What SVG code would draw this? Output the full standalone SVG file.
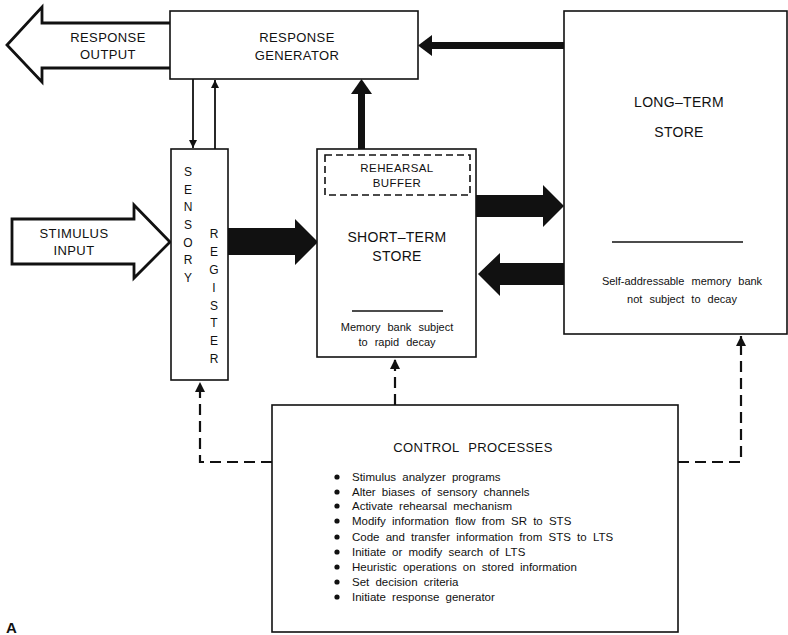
<svg xmlns="http://www.w3.org/2000/svg" width="788" height="635" viewBox="0 0 788 635">
<style>
text{font-family:"Liberation Sans",Arial,sans-serif;fill:#111;}
.box{fill:#fff;stroke:#111;stroke-width:1.6;}
.lbl{font-size:13px;text-anchor:middle;letter-spacing:0.4px;}
.big{font-size:14px;text-anchor:middle;letter-spacing:0.3px;}
.sm{font-size:11px;text-anchor:middle;word-spacing:4px;}
.li{font-size:11.5px;word-spacing:3px;}
.hollow{fill:#fff;stroke:#111;stroke-width:2.8;stroke-linejoin:miter;}
.fat{fill:#111;stroke:none;}
.thin{stroke:#111;stroke-width:1.8;fill:none;}
.dash{stroke:#111;stroke-width:2.2;fill:none;stroke-dasharray:11,6;}
.vl{font-size:12px;text-anchor:middle;}
</style>
<defs>
<marker id="ah" viewBox="0 0 10 10" refX="10" refY="5" markerWidth="8" markerHeight="8" markerUnits="userSpaceOnUse" orient="auto"><path d="M0,0 L10,5 L0,10 z" fill="#111"/></marker>
<marker id="ahd" viewBox="0 0 10 10" refX="10" refY="5" markerWidth="10" markerHeight="10" markerUnits="userSpaceOnUse" orient="auto"><path d="M0,0 L10,5 L0,10 z" fill="#111"/></marker>
</defs>

<g id="connectors">
  <!-- response output hollow arrow -->
  <path class="hollow" d="M171,23 L42,23 L42,7 L7,45 L42,82 L42,68 L171,68"/>
  <!-- stimulus input hollow arrow -->
  <path class="hollow" d="M12,219 L134,219 L134,205 L170,242 L134,278 L134,264 L12,264 Z"/>
  <!-- SR <-> response generator thin arrows -->
  <line class="thin" x1="193" y1="79" x2="193" y2="148" marker-end="url(#ah)"/>
  <line class="thin" x1="215" y1="149" x2="215" y2="80" marker-end="url(#ah)"/>
  <!-- STS -> response generator thick arrow -->
  <rect class="fat" x="358" y="92" width="7" height="57"/>
  <path class="fat" d="M351,94 L361.5,79 L372,94 Z"/>
  <!-- LTS -> response generator thick arrow -->
  <rect class="fat" x="430" y="42" width="134" height="7"/>
  <path class="fat" d="M432,35 L418,45.5 L432,56 Z"/>
  <!-- SR -> STS fat arrow -->
  <path class="fat" d="M228,228 L295,228 L295,219 L318,242 L295,265 L295,255 L228,255 Z"/>
  <!-- STS -> LTS fat arrow -->
  <path class="fat" d="M476,195 L543,195 L543,185 L564,206 L543,227 L543,217 L476,217 Z"/>
  <!-- LTS -> STS fat arrow -->
  <path class="fat" d="M564,263 L500,263 L500,253 L478,274 L500,296 L500,285 L564,285 Z"/>
  <!-- control process dashed connectors -->
  <path class="dash" d="M272,462 L200,462 L200,382" marker-end="url(#ahd)"/>
  <line class="dash" x1="395" y1="405" x2="395" y2="359" marker-end="url(#ahd)"/>
  <path class="dash" d="M678,462 L741,462 L741,336" marker-end="url(#ahd)"/>
</g>

<g id="response-generator">
  <rect class="box" x="170" y="11" width="248" height="68"/>
  <text class="lbl" x="297" y="42">RESPONSE</text>
  <text class="lbl" x="297" y="60">GENERATOR</text>
</g>

<g id="response-output">
  <text class="lbl" x="108" y="42">RESPONSE</text>
  <text class="lbl" x="108" y="59">OUTPUT</text>
</g>

<g id="stimulus-input">
  <text class="lbl" x="74" y="238">STIMULUS</text>
  <text class="lbl" x="74" y="255">INPUT</text>
</g>

<g id="sensory-register">
  <rect class="box" x="171" y="149" width="57" height="231"/>
  <text class="vl" x="188" y="176">S</text>
  <text class="vl" x="188" y="194">E</text>
  <text class="vl" x="188" y="211">N</text>
  <text class="vl" x="188" y="229">S</text>
  <text class="vl" x="188" y="247">O</text>
  <text class="vl" x="188" y="264">R</text>
  <text class="vl" x="188" y="282">Y</text>
  <text class="vl" x="214" y="238">R</text>
  <text class="vl" x="214" y="256">E</text>
  <text class="vl" x="214" y="274">G</text>
  <text class="vl" x="214" y="292">I</text>
  <text class="vl" x="214" y="310">S</text>
  <text class="vl" x="214" y="327">T</text>
  <text class="vl" x="214" y="345">E</text>
  <text class="vl" x="214" y="363">R</text>
</g>

<g id="short-term-store">
  <rect class="box" x="317" y="149" width="159" height="208"/>
  <rect x="325" y="155" width="145" height="40" fill="none" stroke="#111" stroke-width="1.6" stroke-dasharray="7,4"/>
  <text class="lbl" x="397" y="172" style="font-size:11.5px">REHEARSAL</text>
  <text class="lbl" x="397" y="187" style="font-size:11.5px">BUFFER</text>
  <text class="big" x="397" y="242">SHORT–TERM</text>
  <text class="big" x="397" y="261">STORE</text>
  <line x1="352" y1="311" x2="443" y2="311" stroke="#111" stroke-width="1.3"/>
  <text class="sm" x="397" y="331">Memory bank subject</text>
  <text class="sm" x="397" y="346">to rapid decay</text>
</g>

<g id="long-term-store">
  <rect class="box" x="564" y="11" width="223" height="323"/>
  <text class="big" x="679" y="107">LONG–TERM</text>
  <text class="big" x="679" y="137">STORE</text>
  <line x1="612" y1="242" x2="743" y2="242" stroke="#111" stroke-width="1.3"/>
  <text class="sm" x="682" y="285">Self-addressable memory bank</text>
  <text class="sm" x="682" y="303">not subject to decay</text>
</g>

<g id="control-processes">
  <rect class="box" x="272" y="405" width="406" height="227"/>
  <text class="lbl" x="473" y="452" style="word-spacing:5px">CONTROL PROCESSES</text>
  <g fill="#111">
    <circle cx="337" cy="477" r="2.6"/>
    <circle cx="337" cy="492" r="2.6"/>
    <circle cx="337" cy="506" r="2.6"/>
    <circle cx="337" cy="521" r="2.6"/>
    <circle cx="337" cy="537" r="2.6"/>
    <circle cx="337" cy="552" r="2.6"/>
    <circle cx="337" cy="567" r="2.6"/>
    <circle cx="337" cy="582" r="2.6"/>
    <circle cx="337" cy="597" r="2.6"/>
  </g>
  <text class="li" x="352" y="481">Stimulus analyzer programs</text>
  <text class="li" x="352" y="496">Alter biases of sensory channels</text>
  <text class="li" x="352" y="510">Activate rehearsal mechanism</text>
  <text class="li" x="352" y="525">Modify information flow from SR to STS</text>
  <text class="li" x="352" y="541">Code and transfer information from STS to LTS</text>
  <text class="li" x="352" y="556">Initiate or modify search of LTS</text>
  <text class="li" x="352" y="571">Heuristic operations on stored information</text>
  <text class="li" x="352" y="586">Set decision criteria</text>
  <text class="li" x="352" y="601">Initiate response generator</text>
</g>

<text x="6" y="633" style="font-size:15px;font-weight:bold">A</text>
</svg>
